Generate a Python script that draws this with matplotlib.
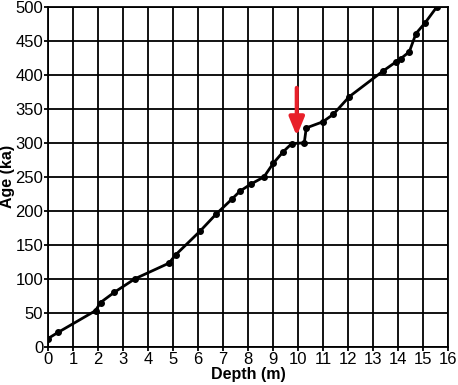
import matplotlib.pyplot as plt

plt.rcParams['font.family'] = ['Liberation Sans', 'DejaVu Sans']

# depth (m) and age (ka)
depth = [0.0, 0.4, 1.9, 2.1, 2.65, 3.48, 4.84, 5.1, 6.08, 6.72, 7.35, 7.68,
         8.1, 8.64, 9.01, 9.41, 9.75, 10.25, 10.33, 10.99, 11.41, 12.05,
         13.41, 13.91, 14.11, 14.45, 14.72, 15.09, 15.55]
age = [12, 21, 53, 65, 80, 100, 123, 135, 170, 195, 217, 229,
       239, 250, 270, 287, 299, 300, 322, 331, 342, 368,
       406, 419, 424, 434, 461, 477, 500]

arrow_depth = 9.95
arrow_top = 381
arrow_tip = 310

fig = plt.figure(figsize=(4.58, 3.85), dpi=100)
ax = fig.add_axes([0.1048, 0.0995, 0.8734, 0.8823])

ax.plot(depth, age, color='black', lw=2, marker='o', ms=4, zorder=3)

ax.annotate('', xy=(arrow_depth, arrow_tip), xytext=(arrow_depth, arrow_top),
            arrowprops=dict(arrowstyle='-|>,head_length=1.1,head_width=0.45',
                            color='#e8202a', lw=3, shrinkA=0, shrinkB=0),
            zorder=4)

ax.set_xlim(0, 16)
ax.set_ylim(0, 500)
ax.set_xticks(range(0, 17))
ax.set_yticks(range(0, 501, 50))
ax.grid(True, color='black', lw=1.3)
ax.set_axisbelow(True)
for s in ax.spines.values():
    s.set_linewidth(1.3)
ax.tick_params(direction='out', length=3, width=1.3, labelsize=12, pad=0.5)

ax.set_xlabel('Depth (m)', fontsize=11.5, fontweight='bold', labelpad=0.5)
ax.set_ylabel('Age (ka)', fontsize=11.5, fontweight='bold', labelpad=0)

fig.savefig('out.png', dpi=100)
